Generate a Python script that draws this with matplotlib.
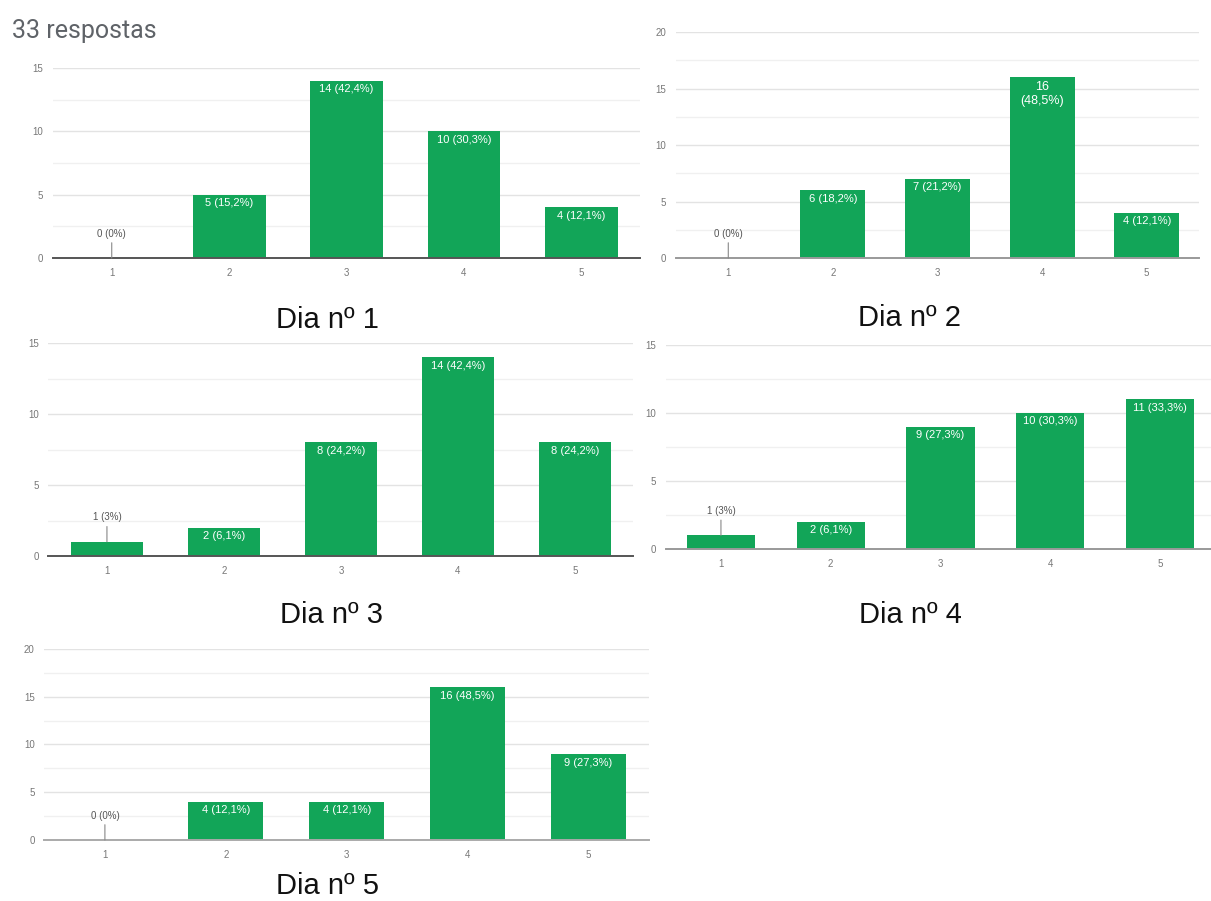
import matplotlib
matplotlib.use('Agg')
import matplotlib.pyplot as plt
import numpy as np

plt.rcParams['font.family'] = ['Liberation Sans', 'DejaVu Sans']

# answers per scale point (1..5), 33 responses per day
scale = ['1', '2', '3', '4', '5']
total = 33
dia1 = [0, 5, 14, 10, 4]
dia2 = [0, 6, 7, 16, 4]
dia3 = [1, 2, 8, 14, 8]
dia4 = [1, 2, 9, 10, 11]
dia5 = [0, 4, 4, 16, 9]
titles = ['Dia nº 1', 'Dia nº 2', 'Dia nº 3', 'Dia nº 4', 'Dia nº 5']
ymax = [15, 20, 15, 15, 20]

# panel boxes [left, bottom, width, height] and title positions (fig fraction)
boxes = [[0.0438, 0.7136, 0.4847, 0.2109],
         [0.5582, 0.7136, 0.4319, 0.2508],
         [0.0400, 0.3829, 0.4831, 0.2364],
         [0.5500, 0.3907, 0.4533, 0.2264],
         [0.0367, 0.0677, 0.4992, 0.2120]]
title_pos = [(327, 328), (910, 326), (331, 623), (910, 623), (327, 894)]
axis_col = ['#555555', '#999999', '#555555', '#999999', '#aaaaaa']
wrap = {(1, 3)}  # labels split on two lines

green = '#12a558'


def label_text(v, two_lines=False):
    pct = f'{v / total * 100:.1f}'.replace('.', ',')
    if pct.endswith(',0'):
        pct = pct[:-2]
    sep = '\n' if two_lines else ' '
    return f'{v}{sep}({pct}%)'


fig = plt.figure(figsize=(12.11, 9.01), dpi=100)
fig.text(12 / 1211, 1 - 38 / 901, '33 respostas', fontsize=18, color='#5f6368',
         ha='left', va='baseline', family=['Roboto', 'Liberation Sans'])

data = [dia1, dia2, dia3, dia4, dia5]
x = np.arange(len(scale))
for k, vals in enumerate(data):
    ax = fig.add_axes(boxes[k])
    ax.bar(x, vals, width=0.62, color=green, zorder=3)
    ax.set_xlim(-0.5, len(scale) - 0.5)
    ax.set_ylim(0, ymax[k])
    ax.set_yticks(np.arange(0, ymax[k] + 1, 5))
    ax.set_yticks(np.arange(2.5, ymax[k], 5), minor=True)
    ax.grid(axis='y', which='major', color='#e3e3e3', lw=1, zorder=0)
    ax.grid(axis='y', which='minor', color='#f0f0f0', lw=1, zorder=0)
    ax.set_xticks(x)
    ax.set_xticklabels(scale)
    ax.tick_params(axis='both', which='both', length=0, labelsize=7, colors='#777777', pad=7)
    for s in ['top', 'right', 'left']:
        ax.spines[s].set_visible(False)
    ax.spines['bottom'].set_color(axis_col[k])
    ax.spines['bottom'].set_linewidth(1.4)
    ax.spines['bottom'].set_zorder(4)

    for i, v in enumerate(vals):
        two = (k, i) in wrap
        txt = label_text(v, two)
        if v <= 1:
            # small bars get the label above with a leader line
            ax.annotate(txt, xy=(i, v), xytext=(0, 14), textcoords='offset points',
                        ha='center', va='bottom', fontsize=7, color='#555555',
                        arrowprops=dict(arrowstyle='-', color='#888888', lw=0.8,
                                        shrinkA=1, shrinkB=0), zorder=5)
        else:
            ax.annotate(txt, xy=(i, v), xytext=(0, -2.5), textcoords='offset points',
                        ha='center', va='top', fontsize=9 if two else 8, color='white',
                        linespacing=1.2, zorder=5)

    tx, ty = title_pos[k]
    fig.text(tx / 1211, 1 - ty / 901, titles[k], fontsize=21, color='#111111',
             ha='center', va='baseline')

fig.savefig('out.png', dpi=100, facecolor='white')
